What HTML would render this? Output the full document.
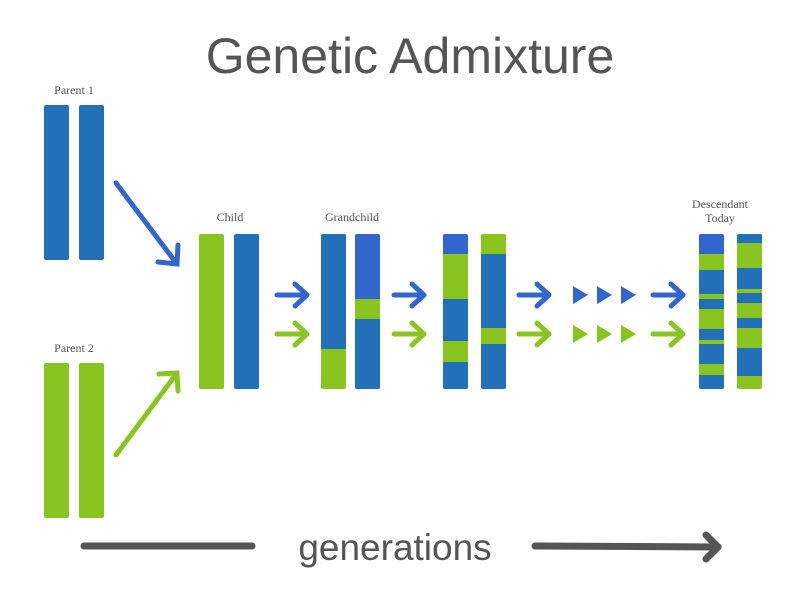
<!DOCTYPE html>
<html><head><meta charset="utf-8"><style>
body{margin:0;background:#fff;}
svg{display:block;font-family:"Liberation Serif",serif;}
</style></head><body>
<svg id="s" width="800" height="600" viewBox="0 0 800 600">
<defs>
<clipPath id="c"><rect x="0" y="0" width="25" height="155" rx="2"/></clipPath>
</defs>
<text x="410" y="73" text-anchor="middle" font-family="Liberation Sans, sans-serif" font-size="50" fill="#555">Genetic Admixture</text>
<text x="74" y="94" text-anchor="middle" font-size="12" fill="#555">Parent 1</text>
<text x="74" y="352" text-anchor="middle" font-size="12" fill="#555">Parent 2</text>
<text x="230" y="221" text-anchor="middle" font-size="12" fill="#555">Child</text>
<text x="352" y="221" text-anchor="middle" font-size="12" fill="#555">Grandchild</text>
<text x="720" y="208" text-anchor="middle" font-size="12" fill="#555">Descendant</text>
<text x="720" y="222" text-anchor="middle" font-size="12" fill="#555">Today</text>
<g id="chroms"></g>
<g stroke="#3366cc" stroke-width="5" stroke-linecap="round" fill="none">
<line x1="116" y1="183" x2="177" y2="264"/><polyline points="158,262 177,264 178,245"/></g>
<g stroke="#8ac421" stroke-width="5" stroke-linecap="round" fill="none">
<line x1="116" y1="455" x2="177" y2="373"/><polyline points="159,374 177,373 178,391"/></g>
<g id="arrows"></g>
<g fill="#3366cc">
<polygon points="573,286 588,295 573,304"/><polygon points="597,286 612,295 597,304"/><polygon points="621,286 636,295 621,304"/></g>
<g fill="#8ac421">
<polygon points="573,325 588,334 573,343"/><polygon points="597,325 612,334 597,343"/><polygon points="621,325 636,334 621,343"/></g>
<line x1="84" y1="546" x2="252" y2="546" stroke="#555" stroke-width="7" stroke-linecap="round"/>
<text x="395" y="560" text-anchor="middle" font-family="Liberation Sans, sans-serif" font-size="37" fill="#555">generations</text>
<g stroke="#555" stroke-width="7" stroke-linecap="round" stroke-linejoin="round" fill="none">
<line x1="535" y1="546" x2="718" y2="547"/><polyline points="706,535 718,547 706,559"/></g>
</svg>
<script>
var B="#2270b8",L="#3366cc",G="#8ac421";
var chromX=[44,79,44,79,199,234,321,355,443,481,699,737];
var chromY=[105,105,363,363,234,234,234,234,234,234,234,234];
var chromNames=["parent1-chrom-a","parent1-chrom-b","parent2-chrom-a","parent2-chrom-b","child-chrom-a","child-chrom-b","grandchild-chrom-a","grandchild-chrom-b","gen3-chrom-a","gen3-chrom-b","descendant-chrom-a","descendant-chrom-b"];
var chromSegs=[
[[0,155,B]],[[0,155,B]],[[0,155,G]],[[0,155,G]],[[0,155,G]],[[0,155,B]],
[[0,115,B],[115,155,G]],
[[0,65,L],[65,85,G],[85,155,B]],
[[0,20,L],[20,65,G],[65,107,B],[107,128,G],[128,155,B]],
[[0,20,G],[20,94,B],[94,110,G],[110,155,B]],
[[0,20,L],[20,36,G],[36,60,B],[60,65,G],[65,75,B],[75,95,G],[95,106,B],[106,110,G],[110,130,B],[130,141,G],[141,155,B]],
[[0,9,B],[9,34,G],[34,55,B],[55,59,G],[59,69,B],[69,84,G],[84,94,B],[94,114,G],[114,142,B],[142,155,G]]
];
var ns="http://www.w3.org/2000/svg",root=document.getElementById("chroms");
chromX.forEach(function(x,i){
 var g=document.createElementNS(ns,"g");
 g.setAttribute("transform","translate("+x+","+chromY[i]+")");
 g.setAttribute("clip-path","url(#c)");
 
 
 chromSegs[i].forEach(function(s){
  var r=document.createElementNS(ns,"rect");
  r.setAttribute("x",0);r.setAttribute("y",s[0]);r.setAttribute("width",25);r.setAttribute("height",s[1]-s[0]);r.setAttribute("fill",s[2]);
  
  
  g.appendChild(r);
 });
 root.appendChild(g);
});
var arrowX=[277,394,519,653];
var ar=document.getElementById("arrows");
arrowX.forEach(function(x){
 [[295,L],[334,G]].forEach(function(a){
  var g=document.createElementNS(ns,"g");
  g.setAttribute("stroke",a[1]);g.setAttribute("stroke-width","5");g.setAttribute("stroke-linecap","round");g.setAttribute("stroke-linejoin","round");g.setAttribute("fill","none");
  
  
  g.innerHTML='<line x1="'+x+'" y1="'+a[0]+'" x2="'+(x+29)+'" y2="'+a[0]+'"/><polyline points="'+(x+18)+','+(a[0]-11)+' '+(x+30)+','+a[0]+' '+(x+18)+','+(a[0]+11)+'"/>';
  ar.appendChild(g);
 });
});
</script>
</body></html>
